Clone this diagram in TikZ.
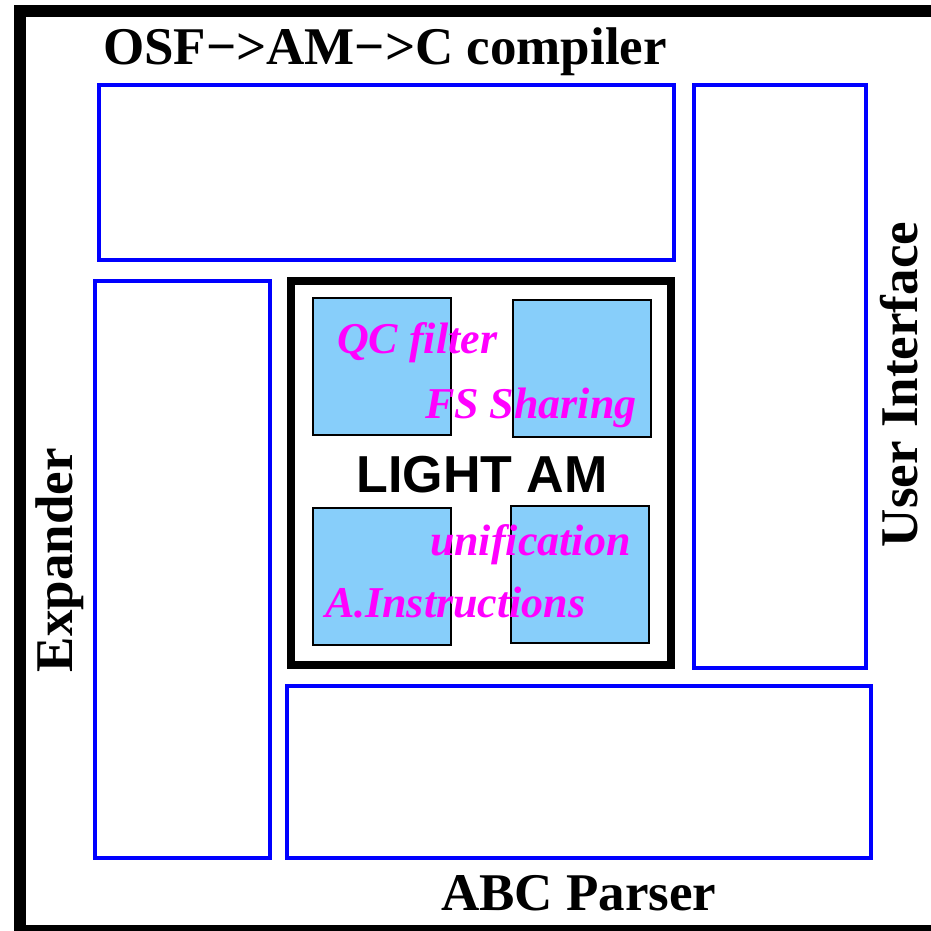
\documentclass[tikz,border=0pt]{standalone}
\usepackage{fontspec}
\setmainfont{Liberation Serif}
\newfontfamily\amfont{Liberation Sans}
\definecolor{amfill}{HTML}{87CEFA}
\definecolor{partpink}{HTML}{FF00FF}

\begin{document}
\begin{tikzpicture}[x=1pt,y=-1pt, every node/.style={inner sep=0pt,outer sep=0pt},
  module/.style={draw=blue,line width=4pt},
  unit/.style={draw=black,line width=1.4pt,fill=amfill,minimum width=138pt,minimum height=137pt},
  lbl/.style={font=\fontsize{53}{60}\selectfont\bfseries},
  part/.style={font=\fontsize{44}{50}\selectfont\bfseries\itshape,text=partpink,anchor=base west}]
\useasboundingbox (0,0) rectangle (931,931);
\clip (0,0) rectangle (931,931);
% outer frame
\draw[line width=12pt] (20,11) rectangle (940,931);
% the four modules round the machine
\node[module,minimum width=575pt,minimum height=175pt] (osf) at (386.5,172.5) {};
\node[module,minimum width=172pt,minimum height=583pt] (ui) at (780,376.5) {};
\node[module,minimum width=175pt,minimum height=577pt] (exp) at (182.5,569.5) {};
\node[module,minimum width=584pt,minimum height=172pt] (abc) at (578.5,772) {};
% light am and its units
\node[draw,line width=8pt,minimum width=380pt,minimum height=384pt] (am) at (481,473) {};
\node[unit] (qc) at (382,366.5) {};
\node[unit] (fs) at (582,368.5) {};
\node[unit] (ai) at (382,576.5) {};
\node[unit] (un) at (580,574.5) {};
\node[font=\fontsize{52}{60}\selectfont\amfont\bfseries,anchor=base] (amlbl) at (482,492) {LIGHT AM};
\node[part] (qclbl) at (337,353) {QC filter};
\node[part] (fslbl) at (425,418) {FS Sharing};
\node[part] (unlbl) at (430,555) {unification};
\node[part] (ailbl) at (325,617) {A.Instructions};
% module labels
\node[lbl,anchor=base west] (osflbl) at (103,65) {OSF−>AM−>C compiler};
\node[lbl,anchor=base west] (abclbl) at (441,910) {ABC Parser};
\node[lbl,anchor=base west,rotate=90] (explbl) at (72,672) {Expander};
\node[lbl,anchor=base west,rotate=90] (uilbl) at (917,547) {User Interface};
\end{tikzpicture}
\end{document}
